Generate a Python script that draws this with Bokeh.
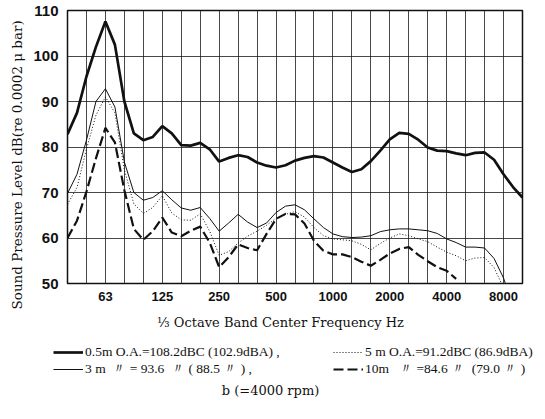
from bokeh.plotting import figure
from bokeh.layouts import column
from bokeh.models import FixedTicker, Legend, LegendItem, ColumnDataSource, Title, Label
from bokeh.embed import file_html
from bokeh.resources import INLINE

# 1/3-octave band centre frequencies (Hz) spanning the x axis
band_hz = [40, 50, 63, 80, 100, 125, 160, 200, 250, 315, 400, 500, 630, 800,
           1000, 1250, 1600, 2000, 2500, 3150, 4000, 5000, 6300, 8000, 10000]
labeled_hz = [63, 125, 250, 500, 1000, 2000, 4000, 8000]
db_ticks = [50, 60, 70, 80, 90, 100, 110]

# SPL readings (dB) at every band and midway between bands (1/6-octave steps)
spl_05m = [82.8, 87.5, 95.5, 102.0, 107.6, 102.5, 90.0, 83.0, 81.5, 82.2,
           84.6, 83.0, 80.4, 80.3, 80.9, 79.5, 76.8, 77.6, 78.2, 77.8,
           76.6, 75.9, 75.5, 76.0, 77.0, 77.6, 78.0, 77.7, 76.6, 75.5,
           74.5, 75.1, 76.9, 79.2, 81.7, 83.1, 82.9, 81.6, 79.9, 79.2,
           79.1, 78.6, 78.2, 78.7, 78.8, 77.2, 74.0, 71.2, 68.9]
spl_3m = [69.8, 74.0, 81.5, 90.0, 92.8, 88.8, 76.7, 70.0, 68.3, 68.9,
          70.4, 68.4, 66.6, 66.1, 66.7, 64.3, 61.5, 63.3, 65.2, 63.5,
          62.3, 63.3, 65.6, 67.0, 67.3, 66.2, 64.2, 62.3, 60.9, 60.3,
          60.1, 60.2, 60.5, 61.4, 61.8, 62.0, 62.0, 61.8, 61.6, 61.0,
          59.8, 59.0, 58.0, 58.0, 57.8, 55.5, 51.2, 45.0]
spl_5m = [67.4, 71.1, 79.5, 87.0, 91.0, 87.5, 75.0, 67.5, 65.4, 66.7,
          69.3, 65.5, 64.0, 63.9, 65.3, 61.5, 56.2, 57.0, 58.9, 60.4,
          61.5, 62.8, 64.3, 65.2, 65.8, 64.6, 62.3, 60.5, 59.8, 59.6,
          59.4, 58.6, 57.4, 58.8, 60.0, 60.9, 60.5, 59.8, 59.2, 58.0,
          56.9, 56.1, 55.0, 55.6, 55.7, 53.5, 49.0]
spl_10m = [60.0, 63.8, 70.2, 77.5, 84.2, 81.0, 70.5, 62.0, 59.6, 61.5,
           64.5, 61.2, 60.4, 61.6, 62.5, 59.0, 53.6, 55.8, 58.6, 57.8,
           57.3, 60.9, 64.2, 65.3, 65.2, 63.2, 59.4, 57.2, 56.4, 56.4,
           55.8, 54.8, 53.9, 55.2, 56.6, 57.6, 58.0, 56.3, 54.9, 53.6,
           52.8, 51.0]

key_05m = "0.5m O.A.=108.2dBC (102.9dBA) ,"
key_3m = "3 m  〃 = 93.6  〃 ( 88.5 〃 ) ,"
key_5m = "5 m O.A.=91.2dBC (86.9dBA)"
key_10m = "10m   〃 =84.6 〃  (79.0 〃 )"

series = [(spl_05m, dict(line_width=2.7)),
          (spl_3m, dict(line_width=1.0)),
          (spl_5m, dict(line_width=1.0, line_dash="1 2")),
          (spl_10m, dict(line_width=2.2, line_dash="10 4"))]
sources = [ColumnDataSource(dict(x=[k / 2 for k in range(len(v))], y=v))
           for v, _ in series]

W = 541
MH = 310
p = figure(width=W, height=MH, output_backend="svg", toolbar_location=None,
           x_range=(0, len(band_hz) - 1), y_range=(db_ticks[0], db_ticks[-1]),
           min_border_left=67, min_border_right=W - 522, min_border_top=10,
           min_border_bottom=27)
p.background_fill_color = "white"
p.border_fill_color = "white"
p.outline_line_color = "#111111"
p.outline_line_width = 1.5

for s, (_, style) in zip(sources, series):
    p.line("x", "y", source=s, line_color="#111111", **style)

label_idx = [band_hz.index(f) for f in labeled_hz]
p.xaxis.ticker = FixedTicker(ticks=label_idx)
p.xaxis.major_label_overrides = {i: str(f) for i, f in zip(label_idx, labeled_hz)}
p.xgrid.ticker = FixedTicker(ticks=list(range(len(band_hz))))
p.yaxis.ticker = FixedTicker(ticks=db_ticks)
p.ygrid.ticker = FixedTicker(ticks=db_ticks)

for g in (p.xgrid, p.ygrid):
    g.grid_line_color = "#1a1a1a"
    g.grid_line_alpha = 0.8
    g.grid_line_width = 1

for ax in (p.xaxis, p.yaxis):
    ax.axis_line_color = None
    ax.major_tick_line_color = None
    ax.minor_tick_line_color = None
    ax.major_label_text_font = "Liberation Sans"
    ax.major_label_text_font_style = "bold"
    ax.major_label_text_color = "#111111"
p.xaxis.major_label_text_font_size = "13px"
p.xaxis.major_label_standoff = 2
p.yaxis.major_label_text_font_size = "15px"
p.yaxis.major_label_standoff = 3

p.add_layout(Title(text="Sound Pressure Level dB(re 0.0002 μ bar)", align="left",
                   offset=-26, standoff=12, text_font="DejaVu Serif",
                   text_font_size="13.5px", text_font_style="normal",
                   text_color="#111111"), "left")

# key panel underneath the chart; its frame fills its whole canvas
KH = 411 - MH
k = figure(width=W, height=KH, output_backend="svg", toolbar_location=None,
           x_range=(0, 1), y_range=(0, 1), x_axis_location=None,
           y_axis_location=None, min_border=0)
k.frame_align = False
k.grid.visible = False
k.outline_line_color = None
k.background_fill_color = "white"
k.border_fill_color = "white"
key_r = [k.line("x", "y", source=s, line_color="#111111", **style)
         for s, (_, style) in zip(sources, series)]

k.add_layout(Label(x=280, y=KH - 12, x_units="screen", y_units="screen",
                   text="⅓ Octave Band Center Frequency Hz", text_align="center",
                   text_baseline="middle", text_font="DejaVu Serif",
                   text_font_size="13px", text_color="#111111"))

legend = Legend(items=[LegendItem(label=key_05m, renderers=[key_r[0]]),
                       LegendItem(label=key_3m, renderers=[key_r[1]]),
                       LegendItem(label=key_5m, renderers=[key_r[2]]),
                       LegendItem(label=key_10m, renderers=[key_r[3]])],
                ncols=2, location=(53, KH - 68), glyph_width=30,
                glyph_height=14, label_height=14, label_width=248,
                label_standoff=2, padding=0, margin=0, spacing=0,
                border_line_color=None, background_fill_alpha=0,
                label_text_font="Liberation Serif", label_text_font_size="13.5px",
                label_text_color="#111111")
k.add_layout(legend)
k.add_layout(Label(x=270, y=KH - 80, x_units="screen", y_units="screen",
                   text="b (=4000 rpm)", text_align="center",
                   text_baseline="middle", text_font="DejaVu Serif",
                   text_font_size="13px", text_color="#111111"))

open("out.html", "w").write(file_html(column(p, k), INLINE))
